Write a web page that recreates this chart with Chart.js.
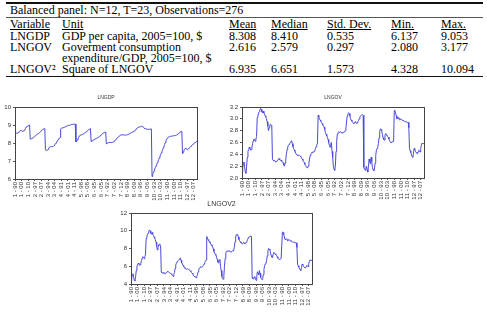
<!DOCTYPE html>
<html>
<head>
<meta charset="utf-8">
<script src="https://cdn.jsdelivr.net/npm/chart.js@4"></script>
<style>
  html, body { margin:0; padding:0; background:#fff; width:487px; height:313px; overflow:hidden; }
  .t { position:absolute; font-family:"Liberation Serif","Times New Roman",serif; font-size:12px; line-height:12px; color:#000; white-space:nowrap; }
  .u { text-decoration:underline; text-underline-offset:1px; }
  .ln { position:absolute; left:6px; width:477px; background:#000; }
  canvas { position:absolute; }
</style>
</head>
<body>
<script>
// ---------------- DATA ----------------
const panels = ['1','2','3','4','5','6','7','8','9','10','11','12'];
const years = ['90','91','92','93','94','95','96','97','98','99','00','01','02','03','04','05','06','07','08','09','10','11','12'];
const labelEvery = 10;

const lngdp = [
 8.50,8.52,8.54,8.55,8.56,8.58,8.62,8.65,8.68,8.70,8.68,8.66,8.65,8.68,8.70,8.75,8.82,8.89,8.92,8.94,8.96,8.98,9.00,
 8.22,8.23,8.24,8.26,8.28,8.32,8.35,8.38,8.42,8.45,8.47,8.50,8.52,8.55,8.58,8.62,8.66,8.70,8.73,8.76,8.78,8.79,8.80,
 7.62,7.60,7.58,7.60,7.65,7.72,7.76,7.79,7.80,7.80,7.80,7.81,7.82,7.86,7.90,7.95,8.00,8.05,8.12,8.18,8.22,8.27,8.30,
 8.78,8.82,8.84,8.85,8.85,8.86,8.88,8.90,8.92,8.94,8.96,8.97,8.97,8.98,9.00,9.02,9.03,9.03,9.03,9.04,9.05,9.053,9.05,
 8.06,8.10,8.16,8.22,8.30,8.38,8.42,8.44,8.45,8.46,8.48,8.50,8.52,8.55,8.58,8.61,8.64,8.67,8.70,8.73,8.76,8.78,8.80,
 8.08,8.12,8.14,8.16,8.18,8.20,8.22,8.24,8.26,8.28,8.30,8.32,8.35,8.38,8.42,8.45,8.48,8.52,8.55,8.57,8.59,8.60,8.61,
 7.95,7.98,8.00,8.02,8.04,8.04,8.03,8.02,8.03,8.04,8.05,8.07,8.10,8.14,8.18,8.22,8.26,8.30,8.34,8.37,8.40,8.43,8.45,
 8.46,8.46,8.45,8.44,8.44,8.44,8.44,8.45,8.45,8.46,8.48,8.50,8.52,8.54,8.56,8.58,8.60,8.62,8.63,8.65,8.68,8.72,8.78,
 8.82,8.85,8.87,8.88,8.89,8.90,8.92,8.94,8.93,8.90,8.86,8.83,8.81,8.80,8.78,8.77,8.76,8.76,8.76,8.76,8.77,8.77,8.78,
 6.137,6.25,6.35,6.45,6.55,6.64,6.73,6.82,6.90,6.99,7.08,7.17,7.26,7.36,7.45,7.54,7.63,7.72,7.82,7.92,8.02,8.12,8.22,
 8.26,8.30,8.33,8.35,8.36,8.37,8.38,8.39,8.39,8.40,8.40,8.41,8.42,8.43,8.44,8.47,8.50,8.53,8.56,8.59,8.62,8.64,8.65,
 7.40,7.48,7.56,7.64,7.70,7.72,7.68,7.62,7.64,7.68,7.72,7.75,7.78,7.82,7.86,7.90,7.94,7.97,8.00,8.03,8.05,8.07,8.08
];

const lngov = [
 2.10,2.16,2.25,2.27,2.18,2.10,2.08,2.20,2.35,2.45,2.48,2.52,2.50,2.47,2.48,2.52,2.58,2.63,2.66,2.64,2.62,2.66,2.70,
 3.02,3.05,3.10,3.12,3.15,3.177,3.16,3.12,3.10,3.13,3.10,3.08,3.05,3.03,3.00,2.95,2.88,2.80,2.85,2.90,2.91,2.89,2.88,
 2.31,2.30,2.29,2.30,2.28,2.27,2.28,2.29,2.30,2.32,2.33,2.31,2.30,2.30,2.28,2.27,2.26,2.22,2.20,2.25,2.30,2.40,2.48,
 2.52,2.55,2.57,2.58,2.60,2.62,2.63,2.58,2.53,2.50,2.47,2.45,2.42,2.40,2.39,2.38,2.38,2.39,2.38,2.37,2.36,2.34,2.32,
 2.30,2.28,2.26,2.23,2.21,2.19,2.18,2.17,2.20,2.25,2.32,2.38,2.41,2.42,2.44,2.43,2.44,2.45,2.47,2.50,2.53,2.56,2.59,
 3.06,3.03,3.00,2.98,2.96,2.94,2.92,2.90,2.88,2.86,2.82,2.77,2.74,2.71,2.69,2.65,2.60,2.55,2.52,2.57,2.60,2.45,2.35,
 2.20,2.15,2.13,2.20,2.45,2.62,2.74,2.77,2.78,2.77,2.78,2.78,2.77,2.76,2.76,2.77,2.78,2.78,2.80,2.85,2.96,3.05,3.09,
 3.10,3.09,3.05,3.00,2.98,2.96,2.94,2.93,2.92,2.93,2.95,2.94,2.92,2.93,2.95,2.97,3.00,3.03,3.05,3.06,3.06,3.07,3.06,
 2.18,2.15,2.13,2.17,2.20,2.14,2.10,2.20,2.32,2.28,2.24,2.35,2.28,2.18,2.14,2.12,2.15,2.25,2.38,2.47,2.50,2.52,2.58,
 2.68,2.78,2.83,2.82,2.80,2.74,2.68,2.65,2.64,2.72,2.75,2.73,2.72,2.70,2.69,2.66,2.63,2.61,2.60,2.60,2.61,2.62,2.62,
 3.14,3.13,3.10,3.05,3.00,3.01,3.02,3.00,2.98,2.99,3.00,2.99,2.98,2.97,2.97,2.96,2.96,2.95,2.95,2.95,2.94,2.94,2.85,
 2.50,2.46,2.43,2.39,2.36,2.35,2.42,2.50,2.48,2.45,2.43,2.42,2.41,2.44,2.47,2.46,2.44,2.50,2.56,2.59,2.58,2.58,2.59
];

const lngov2 = [
 4.41,4.67,5.06,5.15,4.75,4.41,4.33,4.84,5.52,6.00,6.15,6.35,6.25,6.10,6.15,6.35,6.66,6.92,7.08,6.97,6.86,7.08,7.29,
 9.12,9.30,9.61,9.73,9.92,10.09,9.99,9.73,9.61,9.80,9.61,9.49,9.30,9.18,9.00,8.70,8.29,7.84,8.12,8.41,8.47,8.35,8.29,
 5.34,5.29,5.24,5.29,5.20,5.15,5.20,5.24,5.29,5.38,5.43,5.34,5.29,5.29,5.20,5.15,5.11,4.93,4.84,5.06,5.29,5.76,6.15,
 6.35,6.50,6.60,6.66,6.76,6.86,6.92,6.66,6.40,6.25,6.10,6.00,5.86,5.76,5.71,5.66,5.66,5.71,5.66,5.62,5.57,5.48,5.38,
 5.29,5.20,5.11,4.97,4.88,4.80,4.75,4.71,4.84,5.06,5.38,5.66,5.81,5.86,5.95,5.90,5.95,6.00,6.10,6.25,6.40,6.55,6.71,
 9.36,9.18,9.00,8.88,8.76,8.64,8.53,8.41,8.29,8.18,7.95,7.67,7.51,7.34,7.24,7.02,6.76,6.50,6.35,6.60,6.76,6.00,5.52,
 4.84,4.62,4.54,4.84,6.00,6.86,7.51,7.67,7.73,7.67,7.73,7.73,7.67,7.62,7.62,7.67,7.73,7.73,7.84,8.12,8.76,9.30,9.55,
 9.61,9.55,9.30,9.00,8.88,8.76,8.64,8.58,8.53,8.58,8.70,8.64,8.53,8.58,8.70,8.82,9.00,9.18,9.30,9.36,9.36,9.42,9.36,
 4.75,4.62,4.54,4.71,4.84,4.58,4.41,4.84,5.38,5.20,5.02,5.52,5.20,4.75,4.58,4.49,4.62,5.06,5.66,6.10,6.25,6.35,6.66,
 7.18,7.73,8.01,7.95,7.84,7.51,7.18,7.02,6.97,7.40,7.56,7.45,7.40,7.29,7.24,7.08,6.92,6.81,6.76,6.76,6.81,6.86,6.86,
 9.86,9.80,9.61,9.30,9.00,9.06,9.12,9.00,8.88,8.94,9.00,8.94,8.88,8.82,8.82,8.76,8.76,8.70,8.70,8.70,8.64,8.64,8.12,
 6.25,6.05,5.90,5.71,5.57,5.52,5.86,6.25,6.15,6.00,5.90,5.86,5.81,5.95,6.10,6.05,5.95,6.25,6.55,6.71,6.66,6.66,6.71
];

const tableTitle = 'Balanced panel: N=12, T=23, Observations=276';
const tableHeaders = ['Variable','Unit','Mean','Median','Std. Dev.','Min.','Max.'];
const tableRows = [
  ['LNGDP', ['GDP per capita, 2005=100, $'], '8.308','8.410','0.535','6.137','9.053'],
  ['LNGOV', ['Goverment consumption','expenditure/GDP, 2005=100, $'], '2.616','2.579','0.297','2.080','3.177'],
  ['LNGOV\u00b2', ['Square of LNGOV'], '6.935','6.651','1.573','4.328','10.094']
];

// ---------------- TABLE ----------------
const colX = [10, 62, 229, 271, 327, 391, 441];
function addText(txt, x, y, cls) {
  const d = document.createElement('div');
  d.className = 't' + (cls ? ' ' + cls : '');
  d.style.left = x + 'px'; d.style.top = y + 'px';
  d.textContent = txt;
  document.body.appendChild(d);
}
function addLine(y, h, color) {
  const d = document.createElement('div');
  d.className = 'ln'; d.style.top = y + 'px'; d.style.height = h + 'px'; d.style.background = color;
  document.body.appendChild(d);
}
addLine(2, 2, '#111');
addLine(17, 1, '#555');
addLine(76, 1, '#111');
addText(tableTitle, 10, 4);
tableHeaders.forEach((h, i) => addText(h, colX[i], 18, 'u'));
let rowY = 29.5;
tableRows.forEach(r => {
  addText(r[0], colX[0], rowY);
  const unitLines = r[1];
  const numY = rowY;
  unitLines.forEach((u, k) => addText(u, colX[1], rowY + 11 * k));
  for (let c = 2; c < 7; c++) addText(r[c], colX[c], numY);
  rowY += 11 * unitLines.length;
});

// ---------------- CHARTS ----------------
const xLabels = [];
panels.forEach(p => years.forEach(y => xLabels.push(p + ' - ' + y)));

const frame = {
  id: 'frame',
  afterDraw(chart, args, opts) {
    const a = chart.chartArea, ctx = chart.ctx;
    ctx.save();
    ctx.strokeStyle = '#444'; ctx.lineWidth = 1;
    ctx.strokeRect(Math.round(a.left) + 0.5, Math.round(a.top) + 0.5, Math.round(a.right - a.left), Math.round(a.bottom - a.top));
    ctx.fillStyle = '#333';
    ctx.font = opts.titleSize + 'px "Liberation Sans", Arial, sans-serif';
    ctx.textAlign = 'center'; ctx.textBaseline = 'middle';
    ctx.fillText(opts.title, (a.left + a.right) / 2, a.top - 9);
    ctx.restore();
  }
};

function makeChart(cfg) {
  const cv = document.createElement('canvas');
  cv.width = cfg.w; cv.height = cfg.h;
  cv.style.left = cfg.left + 'px'; cv.style.top = cfg.top + 'px';
  cv.style.width = cfg.w + 'px'; cv.style.height = cfg.h + 'px';
  document.body.appendChild(cv);
  new Chart(cv, {
    type: 'line',
    data: {
      labels: xLabels,
      datasets: [{ data: cfg.data, borderColor: '#4a4ad8', borderWidth: 1, pointRadius: 0, tension: 0, fill: false }]
    },
    options: {
      responsive: false, animation: false, devicePixelRatio: 1,
      layout: { padding: { top: 15, right: 3, left: 0, bottom: 0 } },
      plugins: { legend: { display: false }, tooltip: { enabled: false }, frame: { title: cfg.title, titleSize: cfg.titleSize } },
      scales: {
        x: {
          type: 'category',
          offset: false,
          grid: { display: true, drawOnChartArea: false, drawTicks: true, tickLength: 2, color: '#555' },
          border: { display: true, color: '#444' },
          ticks: {
            autoSkip: false, maxRotation: 90, minRotation: 90, padding: 1,
            font: { size: 6, family: '"Liberation Sans", Arial, sans-serif' }, color: '#333',
            callback: function (v, i) { return i % labelEvery === 0 ? this.getLabelForValue(v) : null; }
          },
          afterFit: s => { s.height = 22; }
        },
        y: {
          min: cfg.min, max: cfg.max,
          grid: { display: true, drawOnChartArea: false, drawTicks: true, tickLength: 2, color: '#555' },
          border: { display: true, color: '#444' },
          ticks: {
            stepSize: cfg.step, padding: 2,
            font: { size: 6, family: '"Liberation Sans", Arial, sans-serif' }, color: '#333',
            callback: v => cfg.dec ? Number(v).toFixed(cfg.dec) : String(Math.round(v))
          },
          afterFit: s => { s.width = cfg.yw; }
        }
      }
    },
    plugins: [frame]
  });
}

makeChart({ left: 0, top: 92, w: 202, h: 109, yw: 15, data: lngdp, min: 6, max: 10, step: 1, dec: 0, title: 'LNGDP', titleSize: 5 });
makeChart({ left: 225, top: 92, w: 204, h: 108, yw: 17, data: lngov, min: 2.0, max: 3.2, step: 0.2, dec: 1, title: 'LNGOV', titleSize: 5 });
makeChart({ left: 116, top: 198, w: 201, h: 108, yw: 15, data: lngov2, min: 4, max: 12, step: 2, dec: 0, title: 'LNGOV2', titleSize: 7 });
</script>
</body>
</html>
